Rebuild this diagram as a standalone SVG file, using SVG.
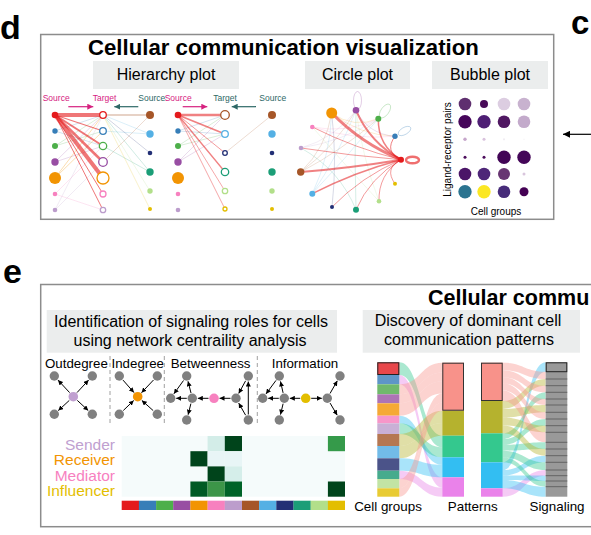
<svg xmlns="http://www.w3.org/2000/svg" width="591" height="535" viewBox="0 0 591 535">
<defs>
<style>
text{font-family:"Liberation Sans",Arial,sans-serif;fill:#000}
.pl{font-weight:bold}
.frame{fill:none;stroke:#8c8c8c;stroke-width:1.5}
.lab{fill:#ebeded}
.h16{font-size:16px;text-anchor:middle}
.sm{font-size:8.5px}
.pk{fill:#d6217f}
.tl{fill:#2d6866}
.e{fill:none;stroke-linecap:round}
.ho{fill:#fff;stroke-width:1.3}
.gn{fill:#808080}
.ar{stroke:#000;stroke-width:1;marker-end:url(#ah)}
.dash{stroke:#a0a0a0;stroke-width:1;stroke-dasharray:4 3}
.rl{font-size:15.5px;text-anchor:end}
.ax{font-size:13.4px;text-anchor:middle}
.rb{opacity:0.42}
.dv{stroke:#555;stroke-width:0.8}
</style>
<marker id="ah" viewBox="0 0 6 6" markerWidth="5" markerHeight="5" refX="6" refY="3" orient="auto" markerUnits="userSpaceOnUse"><path d="M0,0 L6,3 L0,6 z" fill="#000"/></marker>
<marker id="ahp" viewBox="0 0 6 6" markerWidth="6" markerHeight="6" refX="6" refY="3" orient="auto" markerUnits="userSpaceOnUse"><path d="M0,0 L6,3 L0,6 z" fill="#d6217f"/></marker>
<marker id="aht" viewBox="0 0 6 6" markerWidth="6" markerHeight="6" refX="6" refY="3" orient="auto" markerUnits="userSpaceOnUse"><path d="M0,0 L6,3 L0,6 z" fill="#2d6866"/></marker>
<marker id="ahk" viewBox="0 0 8 8" markerWidth="8" markerHeight="7" refX="8" refY="4" orient="auto" markerUnits="userSpaceOnUse"><path d="M0,0 L8,4 L0,8 z" fill="#000"/></marker>
</defs>
<rect width="591" height="535" fill="#fff"/>

<!-- Panel letters -->
<text x="0" y="39" class="pl" font-size="34">d</text>
<text x="571" y="33.5" class="pl" font-size="33">c</text>
<text x="3" y="283" class="pl" font-size="34">e</text>

<!-- Top panel -->
<g id="panel-d">
<rect class="frame" x="40.7" y="34.5" width="513" height="184.8"/>
<text x="88" y="54.5" class="pl" font-size="22.2">Cellular communication visualization</text>
<rect class="lab" x="93" y="61" width="146" height="28"/>
<text x="166" y="80" class="h16">Hierarchy plot</text>
<rect class="lab" x="305" y="61" width="105" height="28"/>
<text x="357.5" y="80" class="h16">Circle plot</text>
<rect class="lab" x="432" y="61" width="116" height="28"/>
<text x="490" y="80" class="h16">Bubble plot</text>
</g>

<!-- Hierarchy plot 1 -->
<g id="hierarchy-1">
<text x="42.7" y="101" class="sm pk">Source</text>
<text x="92.7" y="101" class="sm pk">Target</text>
<text x="138.3" y="101" class="sm tl">Source</text>
<line x1="68.3" y1="106.7" x2="93.3" y2="106.7" stroke="#d6217f" stroke-width="1.2" marker-end="url(#ahp)"/>
<line x1="138.3" y1="106.7" x2="114.3" y2="106.7" stroke="#2d6866" stroke-width="1.2" marker-end="url(#aht)"/>
<g class="e" stroke-opacity="0.35" stroke-width="0.6">
<line x1="55" y1="131" x2="103" y2="115" stroke="#377eb8"/>
<line x1="55" y1="131" x2="103" y2="146" stroke="#377eb8"/>
<line x1="55" y1="146" x2="103" y2="115" stroke="#4daf4a"/>
<line x1="55" y1="146" x2="103" y2="131" stroke="#4daf4a"/>
<line x1="55" y1="162" x2="103" y2="115" stroke="#984ea3"/>
<line x1="55" y1="162" x2="103" y2="146" stroke="#984ea3"/>
<line x1="55" y1="178" x2="103" y2="115" stroke="#f29403" stroke-width="0.9"/>
<line x1="55" y1="178" x2="103" y2="131" stroke="#f29403" stroke-width="0.9"/>
<line x1="55" y1="194" x2="103" y2="210" stroke="#f781bf"/>
<line x1="55" y1="194" x2="103" y2="146" stroke="#f781bf"/>
<line x1="55" y1="210" x2="103" y2="115" stroke="#bc9dcc"/>
<line x1="55" y1="210" x2="103" y2="162" stroke="#bc9dcc"/>
<line x1="150" y1="115" x2="103" y2="115" stroke="#a65628" stroke-width="1.5"/>
<line x1="150" y1="115" x2="103" y2="162" stroke="#a65628"/>
<line x1="150" y1="134" x2="103" y2="115" stroke="#54b0e4"/>
<line x1="150" y1="134" x2="103" y2="131" stroke="#54b0e4"/>
<line x1="150" y1="153" x2="103" y2="115" stroke="#222f75"/>
<line x1="150" y1="172" x2="103" y2="115" stroke="#1b9e77"/>
<line x1="150" y1="172" x2="103" y2="146" stroke="#1b9e77"/>
<line x1="150" y1="191" x2="103" y2="115" stroke="#b2df8a"/>
<line x1="150" y1="209" x2="103" y2="115" stroke="#e3be00"/>
</g>
<g class="e" stroke="#e41a1c" stroke-opacity="0.6">
<line x1="55" y1="115" x2="103" y2="115" stroke-width="4"/>
<line x1="55" y1="115" x2="103" y2="131" stroke-width="1.2"/>
<line x1="55" y1="115" x2="103" y2="146" stroke-width="2"/>
<line x1="55" y1="115" x2="103" y2="162" stroke-width="2.5"/>
<line x1="55" y1="115" x2="103" y2="178" stroke-width="4"/>
<line x1="55" y1="115" x2="103" y2="194" stroke-width="1"/>
<line x1="55" y1="115" x2="103" y2="210" stroke-width="1"/>
</g>
<circle cx="55" cy="115" r="3.3" fill="#e41a1c"/>
<circle cx="55" cy="131" r="2.7" fill="#377eb8"/>
<circle cx="55" cy="146" r="3" fill="#4daf4a"/>
<circle cx="55" cy="162" r="3.7" fill="#984ea3"/>
<circle cx="55" cy="178" r="6" fill="#f29403"/>
<circle cx="55" cy="194" r="2.3" fill="#f781bf"/>
<circle cx="55" cy="210" r="2.3" fill="#bc9dcc"/>
<circle class="ho" cx="103" cy="115" r="3.3" stroke="#e41a1c"/>
<circle class="ho" cx="103" cy="131" r="3.3" stroke="#377eb8"/>
<circle class="ho" cx="103" cy="146" r="3.7" stroke="#4daf4a"/>
<circle class="ho" cx="103" cy="162" r="4.3" stroke="#984ea3"/>
<circle class="ho" cx="103" cy="178" r="6" stroke="#f29403"/>
<circle class="ho" cx="103" cy="194" r="3" stroke="#f781bf"/>
<circle class="ho" cx="103" cy="210" r="2.7" stroke="#bc9dcc"/>
<circle cx="150" cy="115" r="4" fill="#a65628"/>
<circle cx="150" cy="134" r="3.7" fill="#54b0e4"/>
<circle cx="150" cy="153" r="2.3" fill="#222f75"/>
<circle cx="150" cy="172" r="3.7" fill="#1b9e77"/>
<circle cx="150" cy="191" r="2.7" fill="#b2df8a"/>
<circle cx="150" cy="209" r="2" fill="#e3be00"/>
</g>

<!-- Hierarchy plot 2 -->
<g id="hierarchy-2">
<text x="164.7" y="101" class="sm pk">Source</text>
<text x="213.3" y="101" class="sm tl">Target</text>
<text x="259.3" y="101" class="sm tl">Source</text>
<line x1="182.7" y1="106.7" x2="207.3" y2="106.7" stroke="#d6217f" stroke-width="1.2" marker-end="url(#ahp)"/>
<line x1="256" y1="106.7" x2="231.7" y2="106.7" stroke="#2d6866" stroke-width="1.2" marker-end="url(#aht)"/>
<g class="e" stroke-opacity="0.35" stroke-width="0.6">
<line x1="178" y1="131" x2="225" y2="115" stroke="#377eb8"/>
<line x1="178" y1="131" x2="225" y2="134" stroke="#377eb8"/>
<line x1="178" y1="146" x2="225" y2="115" stroke="#4daf4a"/>
<line x1="178" y1="146" x2="225" y2="134" stroke="#4daf4a"/>
<line x1="178" y1="162" x2="225" y2="115" stroke="#984ea3"/>
<line x1="178" y1="162" x2="225" y2="134" stroke="#984ea3"/>
<line x1="272" y1="115" x2="225" y2="153" stroke="#a65628"/>
</g>
<g class="e" stroke="#e41a1c" stroke-opacity="0.55">
<line x1="178" y1="115" x2="225" y2="115" stroke-width="2.5"/>
<line x1="178" y1="115" x2="225" y2="134" stroke-width="1.8"/>
<line x1="178" y1="115" x2="225" y2="153" stroke-width="0.8"/>
<line x1="178" y1="115" x2="225" y2="172" stroke-width="1.3"/>
<line x1="178" y1="115" x2="225" y2="191" stroke-width="0.7"/>
<line x1="178" y1="115" x2="225" y2="209" stroke-width="0.7"/>
</g>
<circle cx="178" cy="115" r="3.3" fill="#e41a1c"/>
<circle cx="178" cy="131" r="2.7" fill="#377eb8"/>
<circle cx="178" cy="146" r="3" fill="#4daf4a"/>
<circle cx="178" cy="162" r="3.7" fill="#984ea3"/>
<circle cx="178" cy="178" r="6" fill="#f29403"/>
<circle cx="178" cy="194" r="2.3" fill="#f781bf"/>
<circle cx="178" cy="210" r="2.3" fill="#bc9dcc"/>
<circle class="ho" cx="225" cy="115" r="4.3" stroke="#a65628"/>
<circle class="ho" cx="225" cy="134" r="3.3" stroke="#54b0e4"/>
<circle class="ho" cx="225" cy="153" r="2.3" stroke="#222f75"/>
<circle class="ho" cx="225" cy="172" r="3.7" stroke="#1b9e77"/>
<circle class="ho" cx="225" cy="191" r="2.7" stroke="#b2df8a"/>
<circle class="ho" cx="225" cy="209" r="2" stroke="#e3be00"/>
<circle cx="272" cy="115" r="4" fill="#a65628"/>
<circle cx="272" cy="134" r="3.7" fill="#54b0e4"/>
<circle cx="272" cy="153" r="2.3" fill="#222f75"/>
<circle cx="272" cy="172" r="3.7" fill="#1b9e77"/>
<circle cx="272" cy="191" r="2.7" fill="#b2df8a"/>
<circle cx="272" cy="209" r="2" fill="#e3be00"/>
</g>

<!-- Circle plot -->
<g id="circle-plot">
<g class="e" stroke-width="0.6" stroke-opacity="0.3">
<path d="M331.7,113 Q353.5,129.1 378.3,118.7" stroke="#f29403"/>
<path d="M331.7,113 Q359.4,135.3 395,136.3" stroke="#f29403"/>
<path d="M356,110.3 Q367.9,134.3 395,136.3" stroke="#984ea3"/>
<path d="M312.3,127 Q346.7,134 378.3,118.7" stroke="#f781bf"/>
<path d="M312.3,127 Q352.6,140.2 395,136.3" stroke="#f781bf"/>
<path d="M301,148 Q335,138.4 356,110.3" stroke="#bc9dcc"/>
<path d="M301,148 Q342.8,141.4 378.3,118.7" stroke="#bc9dcc"/>
<path d="M300.7,172 Q334.9,146.8 356,110.3" stroke="#a65628"/>
<path d="M300.7,172 Q342.7,149.8 378.3,118.7" stroke="#a65628"/>
<path d="M300.7,172 Q326.3,147.8 331.7,113" stroke="#a65628"/>
<path d="M312.3,193.7 Q338.9,154.4 356,110.3" stroke="#54b0e4"/>
<path d="M312.3,193.7 Q330.4,155.4 331.7,113" stroke="#54b0e4"/>
<path d="M312.3,193.7 Q346.7,157.3 378.3,118.7" stroke="#54b0e4"/>
<path d="M356,209.7 Q354.2,160 356,110.3" stroke="#1b9e77"/>
<path d="M332,207 Q337.3,160 331.7,113" stroke="#222f75"/>
<path d="M379,201.3 Q362.3,157.1 356,110.3" stroke="#b2df8a"/>
<path d="M356,209.7 Q340,170 301,148" stroke="#1b9e77"/>
<path d="M379,201.3 Q345,165 312.3,127" stroke="#b2df8a"/>
</g>
<g class="e" stroke="#e41a1c" stroke-opacity="0.55">
<path d="M401,159.7 Q361.5,143.6 331.7,113" stroke-width="3"/>
<path d="M401,159.7 Q370,142.6 356,110.3" stroke-width="2"/>
<path d="M401,159.7 Q377.8,145.6 378.3,118.7" stroke-width="1.5"/>
<path d="M401,159.7 Q383.6,151.7 395,136.3" stroke-width="1"/>
<path d="M401,159.7 Q383.6,168.3 395,183.7" stroke-width="0.8"/>
<path d="M401,159.7 Q378,174.5 379,201.3" stroke-width="0.8"/>
<path d="M401,159.7 Q370,177.4 356,209.7" stroke-width="0.8"/>
<path d="M401,159.7 Q361.5,176.5 332,207" stroke-width="0.8"/>
<path d="M401,159.7 Q354.7,171.8 312.3,193.7" stroke-width="1.5"/>
<path d="M401,159.7 Q350.6,168 300.7,172" stroke-width="2"/>
<path d="M401,159.7 Q350.7,155.8 301,148" stroke-width="0.8"/>
<path d="M401,159.7 Q354.7,148.4 312.3,127" stroke-width="0.8"/>
</g>
<ellipse cx="357.5" cy="100.5" rx="4" ry="9" fill="none" stroke="#984ea3" stroke-opacity="0.35" stroke-width="0.8"/>
<ellipse cx="385" cy="111" rx="4" ry="8" transform="rotate(35 385 111)" fill="none" stroke="#4daf4a" stroke-opacity="0.35" stroke-width="0.8"/>
<ellipse cx="404.5" cy="131" rx="7" ry="3.5" transform="rotate(-30 404.5 131)" fill="none" stroke="#377eb8" stroke-opacity="0.35" stroke-width="0.8"/>
<ellipse cx="412.5" cy="160" rx="6.5" ry="3.3" fill="none" stroke="#ef6f6f" stroke-width="2.4"/>
<circle cx="331.7" cy="113" r="5.5" fill="#f29403"/>
<circle cx="356" cy="110.3" r="3.3" fill="#984ea3"/>
<circle cx="378.3" cy="118.7" r="3" fill="#4daf4a"/>
<circle cx="395" cy="136.3" r="2.7" fill="#377eb8"/>
<circle cx="401" cy="159.7" r="3" fill="#e41a1c"/>
<circle cx="395" cy="183.7" r="2" fill="#e3be00"/>
<circle cx="379" cy="201.3" r="2.3" fill="#b2df8a"/>
<circle cx="356" cy="209.7" r="3" fill="#1b9e77"/>
<circle cx="332" cy="207" r="2" fill="#222f75"/>
<circle cx="312.3" cy="193.7" r="3" fill="#54b0e4"/>
<circle cx="300.7" cy="172" r="3.7" fill="#a65628"/>
<circle cx="301" cy="148" r="2.3" fill="#bc9dcc"/>
<circle cx="312.3" cy="127" r="2.3" fill="#f781bf"/>
</g>

<!-- Bubble plot -->
<g id="bubble-plot">
<text x="0" y="0" font-size="10" text-anchor="middle" transform="translate(451 149.5) rotate(-90)">Ligand-receptor pairs</text>
<circle cx="465" cy="104" r="6.3" fill="#5f2f6f"/>
<circle cx="484" cy="104" r="4" fill="#480a58"/>
<circle cx="504" cy="104" r="6.3" fill="#dccde1"/>
<circle cx="524" cy="104" r="6.3" fill="#c8b2cf"/>
<circle cx="465" cy="121.7" r="6.7" fill="#46065a"/>
<circle cx="484" cy="121.7" r="6.7" fill="#4e1e74"/>
<circle cx="504" cy="121.7" r="6.3" fill="#501862"/>
<circle cx="524" cy="121.7" r="6.3" fill="#c3aacb"/>
<circle cx="465" cy="139.3" r="1.7" fill="#c6a6cb"/>
<circle cx="484" cy="139.3" r="1.5" fill="#d9c2dd"/>
<circle cx="504" cy="139.3" r="1.1" fill="#f1edf3"/>
<circle cx="524" cy="139.3" r="0.8" fill="#f8f6f8"/>
<circle cx="465" cy="157.3" r="1.5" fill="#4c0d5c"/>
<circle cx="484" cy="157.3" r="1.5" fill="#4c0d5c"/>
<circle cx="504" cy="157.3" r="6.7" fill="#420556"/>
<circle cx="524" cy="157.3" r="6.7" fill="#440658"/>
<circle cx="465" cy="174" r="6.3" fill="#4b1568"/>
<circle cx="484" cy="174" r="6.3" fill="#4e2678"/>
<circle cx="504" cy="174" r="6" fill="#683572"/>
<circle cx="524" cy="174" r="1.5" fill="#d9c6dd"/>
<circle cx="465" cy="191.7" r="6.7" fill="#2b7490"/>
<circle cx="484" cy="191.7" r="6.7" fill="#fbe723"/>
<circle cx="504" cy="191.7" r="6.3" fill="#472c7a"/>
<circle cx="524" cy="191.7" r="4.5" fill="#440154"/>
<text x="496" y="215" font-size="10" text-anchor="middle">Cell groups</text>
</g>

<!-- Arrow at right edge -->
<g id="connectors-top">
<line x1="591" y1="134.3" x2="563" y2="134.3" stroke="#000" stroke-width="1.2" marker-end="url(#ahk)"/>
</g>

<!-- Bottom panel -->
<g id="panel-e">
<rect class="frame" x="40.7" y="284.5" width="600" height="242.2"/>
<text x="428" y="305" class="pl" font-size="21.5">Cellular commu</text>
<rect class="lab" x="46.7" y="310" width="290.3" height="42.7"/>
<text x="191" y="326.5" class="h16" font-size="16.2">Identification of signaling roles for cells</text>
<text x="190" y="345.5" class="h16" font-size="16.2">using network centraility analysis</text>
<rect class="lab" x="362.7" y="310" width="217.3" height="42.7"/>
<text x="468" y="325.5" class="h16" font-size="16.2">Discovery of dominant cell</text>
<text x="469" y="345" class="h16" font-size="16.2">communication patterns</text>
</g>

<!-- Network centrality -->
<g id="centrality">
<text x="45" y="368" font-size="13.3">Outdegree</text>
<text x="111.5" y="368" font-size="13.3">Indegree</text>
<text x="170.7" y="368" font-size="13.3">Betweenness</text>
<text x="271.7" y="368" font-size="13.3">Information</text>
<line class="dash" x1="110" y1="356" x2="110" y2="425"/>
<line class="dash" x1="164.3" y1="356" x2="164.3" y2="425"/>
<line class="dash" x1="257.3" y1="356" x2="257.3" y2="425"/>
<g id="centrality-edges">
<line class="ar" x1="69.6" y1="392.6" x2="58.0" y2="380.1"/>
<line class="ar" x1="77.0" y1="392.6" x2="88.6" y2="380.1"/>
<line class="ar" x1="69.3" y1="400.4" x2="58.3" y2="410.6"/>
<line class="ar" x1="77.3" y1="400.4" x2="88.3" y2="410.6"/>
<line class="ar" x1="123.0" y1="380.1" x2="134.0" y2="392.6"/>
<line class="ar" x1="153.5" y1="380.0" x2="141.5" y2="392.7"/>
<line class="ar" x1="123.3" y1="410.5" x2="133.7" y2="400.5"/>
<line class="ar" x1="153.2" y1="410.6" x2="141.8" y2="400.4"/>
<line class="ar" x1="186.8" y1="398.3" x2="176.2" y2="398.3"/>
<line class="ar" x1="191.0" y1="393.0" x2="188.0" y2="381.3"/>
<line class="ar" x1="190.9" y1="403.6" x2="188.1" y2="414.7"/>
<line class="ar" x1="183.5" y1="380.5" x2="173.9" y2="393.8"/>
<line class="ar" x1="208.5" y1="398.3" x2="197.8" y2="398.3"/>
<line class="ar" x1="230.5" y1="398.3" x2="219.5" y2="398.3"/>
<line class="ar" x1="248.3" y1="414.5" x2="248.3" y2="381.5"/>
<line class="ar" x1="245.6" y1="415.2" x2="238.7" y2="403.1"/>
<line class="ar" x1="245.6" y1="380.8" x2="238.7" y2="393.5"/>
<line class="ar" x1="278.8" y1="398.3" x2="268.2" y2="398.3"/>
<line class="ar" x1="283.1" y1="392.9" x2="280.5" y2="381.4"/>
<line class="ar" x1="283.1" y1="403.7" x2="280.5" y2="414.6"/>
<line class="ar" x1="276.0" y1="380.4" x2="266.0" y2="393.9"/>
<line class="ar" x1="300.2" y1="398.3" x2="289.8" y2="398.3"/>
<line class="ar" x1="311.2" y1="398.3" x2="321.8" y2="398.3"/>
<line class="ar" x1="330.0" y1="393.5" x2="337.3" y2="380.8"/>
<line class="ar" x1="330.1" y1="403.1" x2="337.2" y2="415.2"/>
</g>
<g id="centrality-nodes">
<circle cx="73.3" cy="396.7" r="4.8" fill="#c0a0d0"/>
<circle class="gn" cx="54.3" cy="376" r="4.7"/>
<circle class="gn" cx="92.3" cy="376" r="4.7"/>
<circle class="gn" cx="54.3" cy="414.3" r="4.7"/>
<circle class="gn" cx="92.3" cy="414.3" r="4.7"/>
<circle cx="137.7" cy="396.7" r="4.8" fill="#f29403"/>
<circle class="gn" cx="119.3" cy="376" r="4.7"/>
<circle class="gn" cx="157.3" cy="376" r="4.7"/>
<circle class="gn" cx="119.3" cy="414.3" r="4.7"/>
<circle class="gn" cx="157.3" cy="414.3" r="4.7"/>
<circle class="gn" cx="186.7" cy="376" r="4.7"/>
<circle class="gn" cx="170.7" cy="398.3" r="4.7"/>
<circle class="gn" cx="192.3" cy="398.3" r="4.7"/>
<circle class="gn" cx="186.7" cy="420" r="4.7"/>
<circle cx="214" cy="398.3" r="4.8" fill="#f781bf"/>
<circle class="gn" cx="236" cy="398.3" r="4.7"/>
<circle class="gn" cx="248.3" cy="376" r="4.7"/>
<circle class="gn" cx="248.3" cy="420" r="4.7"/>
<circle class="gn" cx="279.3" cy="376" r="4.7"/>
<circle class="gn" cx="262.7" cy="398.3" r="4.7"/>
<circle class="gn" cx="284.3" cy="398.3" r="4.7"/>
<circle class="gn" cx="279.3" cy="420" r="4.7"/>
<circle cx="305.7" cy="398.3" r="4.8" fill="#e3be00"/>
<circle class="gn" cx="327.3" cy="398.3" r="4.7"/>
<circle class="gn" cx="340" cy="376" r="4.7"/>
<circle class="gn" cx="340" cy="420" r="4.7"/>
</g>
</g>

<!-- Heatmap -->
<g id="heatmap">
<text x="115" y="449.5" class="rl" style="fill:#c0a0d0">Sender</text>
<text x="115" y="465" class="rl" style="fill:#f29403">Receiver</text>
<text x="115" y="480.5" class="rl" style="fill:#f781bf">Mediator</text>
<text x="115" y="496" class="rl" style="fill:#e3be00">Influencer</text>
<rect x="121.7" y="436" width="223.3" height="60.7" fill="#f5fbfb"/>
<rect x="207.6" y="436" width="17.2" height="15.2" fill="#d3ede8"/>
<rect x="224.8" y="436" width="17.2" height="15.2" fill="#00441b"/>
<rect x="327.9" y="436" width="17.1" height="15.2" fill="#359a4a"/>
<rect x="190.4" y="451.2" width="17.2" height="15.2" fill="#00441b"/>
<rect x="207.6" y="451.2" width="17.2" height="15.2" fill="#e8f5f6"/>
<rect x="224.8" y="451.2" width="17.2" height="15.2" fill="#e8f5f6"/>
<rect x="207.6" y="466.4" width="17.2" height="15.1" fill="#00441b"/>
<rect x="224.8" y="466.4" width="17.2" height="15.1" fill="#d5eeea"/>
<rect x="190.4" y="481.5" width="17.2" height="15.2" fill="#005a24"/>
<rect x="207.6" y="481.5" width="17.2" height="15.2" fill="#3c9548"/>
<rect x="224.8" y="481.5" width="17.2" height="15.2" fill="#006328"/>
<rect x="327.9" y="481.5" width="17.1" height="15.2" fill="#00441b"/>
<rect x="121.7" y="500.7" width="17.3" height="9.3" fill="#e41a1c"/>
<rect x="138.9" y="500.7" width="17.3" height="9.3" fill="#377eb8"/>
<rect x="156.1" y="500.7" width="17.2" height="9.3" fill="#4daf4a"/>
<rect x="173.2" y="500.7" width="17.3" height="9.3" fill="#984ea3"/>
<rect x="190.4" y="500.7" width="17.3" height="9.3" fill="#f29403"/>
<rect x="207.6" y="500.7" width="17.3" height="9.3" fill="#f781bf"/>
<rect x="224.8" y="500.7" width="17.3" height="9.3" fill="#bc9dcc"/>
<rect x="242.0" y="500.7" width="17.2" height="9.3" fill="#a65628"/>
<rect x="259.1" y="500.7" width="17.3" height="9.3" fill="#54b0e4"/>
<rect x="276.3" y="500.7" width="17.3" height="9.3" fill="#222f75"/>
<rect x="293.5" y="500.7" width="17.3" height="9.3" fill="#1b9e77"/>
<rect x="310.7" y="500.7" width="17.3" height="9.3" fill="#b2df8a"/>
<rect x="327.9" y="500.7" width="17.1" height="9.3" fill="#e3be00"/>
</g>

<!-- Sankey / alluvial -->
<g id="alluvial-flows">
<path class="rb" fill="#34c88e" d="M399.3,362.3 C420.8,362.3 420.8,435.7 442.3,435.7 L442.3,447.4 C420.8,447.4 420.8,375 399.3,375 Z"/>
<path class="rb" fill="#e683e6" d="M399.3,375 C420.8,375 420.8,477.3 442.3,477.3 L442.3,487.6 C420.8,487.6 420.8,384.3 399.3,384.3 Z"/>
<path class="rb" fill="#f8968f" d="M399.3,384.3 C420.8,384.3 420.8,362.7 442.3,362.7 L442.3,372.5 C420.8,372.5 420.8,394.3 399.3,394.3 Z"/>
<path class="rb" fill="#f8968f" d="M399.3,394.3 C420.8,394.3 420.8,372.5 442.3,372.5 L442.3,381.3 C420.8,381.3 420.8,403.3 399.3,403.3 Z"/>
<path class="rb" fill="#f8968f" d="M399.3,403.3 C420.8,403.3 420.8,381.3 442.3,381.3 L442.3,393.4 C420.8,393.4 420.8,415.7 399.3,415.7 Z"/>
<path class="rb" fill="#33bef2" d="M399.3,415.7 C420.8,415.7 420.8,457.3 442.3,457.3 L442.3,464.9 C420.8,464.9 420.8,423.3 399.3,423.3 Z"/>
<path class="rb" fill="#34c88e" d="M399.3,423.3 C420.8,423.3 420.8,447.4 442.3,447.4 L442.3,457.3 C420.8,457.3 420.8,434 399.3,434 Z"/>
<path class="rb" fill="#b5b22e" d="M399.3,434 C420.8,434 420.8,410.7 442.3,410.7 L442.3,423.1 C420.8,423.1 420.8,446 399.3,446 Z"/>
<path class="rb" fill="#b5b22e" d="M399.3,446 C420.8,446 420.8,423.1 442.3,423.1 L442.3,435.7 C420.8,435.7 420.8,458.3 399.3,458.3 Z"/>
<path class="rb" fill="#33bef2" d="M399.3,458.3 C420.8,458.3 420.8,464.9 442.3,464.9 L442.3,477.3 C420.8,477.3 420.8,470.7 399.3,470.7 Z"/>
<path class="rb" fill="#e683e6" d="M399.3,470.7 C420.8,470.7 420.8,487.6 442.3,487.6 L442.3,496.7 C420.8,496.7 420.8,479 399.3,479 Z"/>
<path class="rb" fill="#f8968f" d="M399.3,479 C420.8,479 420.8,393.4 442.3,393.4 L442.3,402.5 C420.8,402.5 420.8,488.3 399.3,488.3 Z"/>
<path class="rb" fill="#f8968f" d="M399.3,488.3 C420.8,488.3 420.8,402.5 442.3,402.5 L442.3,410.7 C420.8,410.7 420.8,496.7 399.3,496.7 Z"/>

<path class="rb" fill="#33bef2" d="M502.7,462.3 C524.2,462.3 524.2,362.3 545.7,362.3 L545.7,371.7 C524.2,371.7 524.2,470.1 502.7,470.1 Z"/>
<path class="rb" fill="#f8968f" d="M502.7,362.7 C524.2,362.7 524.2,371.7 545.7,371.7 L545.7,379 C524.2,379 524.2,370.3 502.7,370.3 Z"/>
<path class="rb" fill="#b5b22e" d="M502.7,401 C524.2,401 524.2,379 545.7,379 L545.7,385.7 C524.2,385.7 524.2,408.9 502.7,408.9 Z"/>
<path class="rb" fill="#f8968f" d="M502.7,370.3 C524.2,370.3 524.2,385.7 545.7,385.7 L545.7,392.3 C524.2,392.3 524.2,377.3 502.7,377.3 Z"/>
<path class="rb" fill="#34c88e" d="M502.7,433.3 C524.2,433.3 524.2,392.3 545.7,392.3 L545.7,399 C524.2,399 524.2,439.1 502.7,439.1 Z"/>
<path class="rb" fill="#f8968f" d="M502.7,377.3 C524.2,377.3 524.2,399 545.7,399 L545.7,405 C524.2,405 524.2,383.5 502.7,383.5 Z"/>
<path class="rb" fill="#b5b22e" d="M502.7,408.9 C524.2,408.9 524.2,405 545.7,405 L545.7,412.3 C524.2,412.3 524.2,417.6 502.7,417.6 Z"/>
<path class="rb" fill="#f8968f" d="M502.7,383.5 C524.2,383.5 524.2,412.3 545.7,412.3 L545.7,419 C524.2,419 524.2,390.5 502.7,390.5 Z"/>
<path class="rb" fill="#34c88e" d="M502.7,439.1 C524.2,439.1 524.2,419 545.7,419 L545.7,425.7 C524.2,425.7 524.2,444.9 502.7,444.9 Z"/>
<path class="rb" fill="#b5b22e" d="M502.7,417.6 C524.2,417.6 524.2,425.7 545.7,425.7 L545.7,432.3 C524.2,432.3 524.2,425.4 502.7,425.4 Z"/>
<path class="rb" fill="#f8968f" d="M502.7,390.5 C524.2,390.5 524.2,432.3 545.7,432.3 L545.7,442.3 C524.2,442.3 524.2,401 502.7,401 Z"/>
<path class="rb" fill="#34c88e" d="M502.7,444.9 C524.2,444.9 524.2,442.3 545.7,442.3 L545.7,449 C524.2,449 524.2,450.7 502.7,450.7 Z"/>
<path class="rb" fill="#b5b22e" d="M502.7,425.4 C524.2,425.4 524.2,449 545.7,449 L545.7,455.7 C524.2,455.7 524.2,433.3 502.7,433.3 Z"/>
<path class="rb" fill="#33bef2" d="M502.7,470.1 C524.2,470.1 524.2,455.7 545.7,455.7 L545.7,462.3 C524.2,462.3 524.2,475.6 502.7,475.6 Z"/>
<path class="rb" fill="#34c88e" d="M502.7,450.7 C524.2,450.7 524.2,462.3 545.7,462.3 L545.7,470 C524.2,470 524.2,457.4 502.7,457.4 Z"/>
<path class="rb" fill="#e683e6" d="M502.7,488.3 C524.2,488.3 524.2,470 545.7,470 L545.7,475.7 C524.2,475.7 524.2,496.7 502.7,496.7 Z"/>
<path class="rb" fill="#33bef2" d="M502.7,475.6 C524.2,475.6 524.2,475.7 545.7,475.7 L545.7,481 C524.2,481 524.2,480 502.7,480 Z"/>
<path class="rb" fill="#34c88e" d="M502.7,457.4 C524.2,457.4 524.2,481 545.7,481 L545.7,486.7 C524.2,486.7 524.2,462.3 502.7,462.3 Z"/>
<path class="rb" fill="#33bef2" d="M502.7,480 C524.2,480 524.2,486.7 545.7,486.7 L545.7,496.7 C524.2,496.7 524.2,488.3 502.7,488.3 Z"/>
</g>

<g id="cell-groups-bar">
<rect x="377.3" y="362.3" width="22" height="12.7" fill="#e8474b"/>
<rect x="377.3" y="375" width="22" height="9.3" fill="#5e96c7"/>
<rect x="377.3" y="384.3" width="22" height="10" fill="#70b96c"/>
<rect x="377.3" y="394.3" width="22" height="9" fill="#ad74b5"/>
<rect x="377.3" y="403.3" width="22" height="12.4" fill="#f5a935"/>
<rect x="377.3" y="415.7" width="22" height="7.6" fill="#f796c9"/>
<rect x="377.3" y="423.3" width="22" height="10.7" fill="#c9b0d6"/>
<rect x="377.3" y="434" width="22" height="12" fill="#b57752"/>
<rect x="377.3" y="446" width="22" height="12.3" fill="#72bbe8"/>
<rect x="377.3" y="458.3" width="22" height="12.4" fill="#4b5389"/>
<rect x="377.3" y="470.7" width="22" height="8.3" fill="#46ab8d"/>
<rect x="377.3" y="479" width="22" height="9.3" fill="#c2e4a4"/>
<rect x="377.3" y="488.3" width="22" height="8.4" fill="#e8cb33"/>
<rect x="377.8" y="362.8" width="21" height="11.7" fill="none" stroke="#222" stroke-width="1"/>
<text x="388" y="511" class="ax">Cell groups</text>
</g>

<g id="patterns-bar-1">
<rect x="442.3" y="362.7" width="21.7" height="48" fill="#f8928a"/>
<rect x="442.3" y="410.7" width="21.7" height="25" fill="#b5b22e"/>
<rect x="442.3" y="435.7" width="21.7" height="21.6" fill="#34c88e"/>
<rect x="442.3" y="457.3" width="21.7" height="20" fill="#33bef2"/>
<rect x="442.3" y="477.3" width="21.7" height="19.4" fill="#ea82ea"/>
<rect x="442.8" y="363.2" width="20.7" height="47" fill="none" stroke="#333" stroke-width="1"/>
<text x="472.7" y="511" class="ax">Patterns</text>
</g>

<g id="patterns-bar-2">
<rect x="481" y="362.7" width="21.7" height="38.3" fill="#f8928a"/>
<rect x="481" y="401" width="21.7" height="32.3" fill="#b5b22e"/>
<rect x="481" y="433.3" width="21.7" height="29" fill="#34c88e"/>
<rect x="481" y="462.3" width="21.7" height="26" fill="#33bef2"/>
<rect x="481" y="488.3" width="21.7" height="8.4" fill="#ea82ea"/>
<rect x="481.5" y="363.2" width="20.7" height="37.3" fill="none" stroke="#333" stroke-width="1"/>
</g>

<g id="signaling-bar">
<rect x="545.7" y="362.3" width="21.6" height="134.4" fill="#999"/>
<line class="dv" x1="545.7" y1="379" x2="567.3" y2="379"/>
<line class="dv" x1="545.7" y1="385.7" x2="567.3" y2="385.7"/>
<line class="dv" x1="545.7" y1="392.3" x2="567.3" y2="392.3"/>
<line class="dv" x1="545.7" y1="399" x2="567.3" y2="399"/>
<line class="dv" x1="545.7" y1="405" x2="567.3" y2="405"/>
<line class="dv" x1="545.7" y1="412.3" x2="567.3" y2="412.3"/>
<line class="dv" x1="545.7" y1="419" x2="567.3" y2="419"/>
<line class="dv" x1="545.7" y1="425.7" x2="567.3" y2="425.7"/>
<line class="dv" x1="545.7" y1="432.3" x2="567.3" y2="432.3"/>
<line class="dv" x1="545.7" y1="442.3" x2="567.3" y2="442.3"/>
<line class="dv" x1="545.7" y1="449" x2="567.3" y2="449"/>
<line class="dv" x1="545.7" y1="455.7" x2="567.3" y2="455.7"/>
<line class="dv" x1="545.7" y1="462.3" x2="567.3" y2="462.3"/>
<line class="dv" x1="545.7" y1="470" x2="567.3" y2="470"/>
<line class="dv" x1="545.7" y1="475.7" x2="567.3" y2="475.7"/>
<line class="dv" x1="545.7" y1="481" x2="567.3" y2="481"/>
<line class="dv" x1="545.7" y1="486.7" x2="567.3" y2="486.7"/>
<rect x="546.2" y="362.8" width="20.6" height="8.9" fill="none" stroke="#222" stroke-width="1"/>
<text x="557" y="511" class="ax">Signaling</text>
</g>
</svg>
